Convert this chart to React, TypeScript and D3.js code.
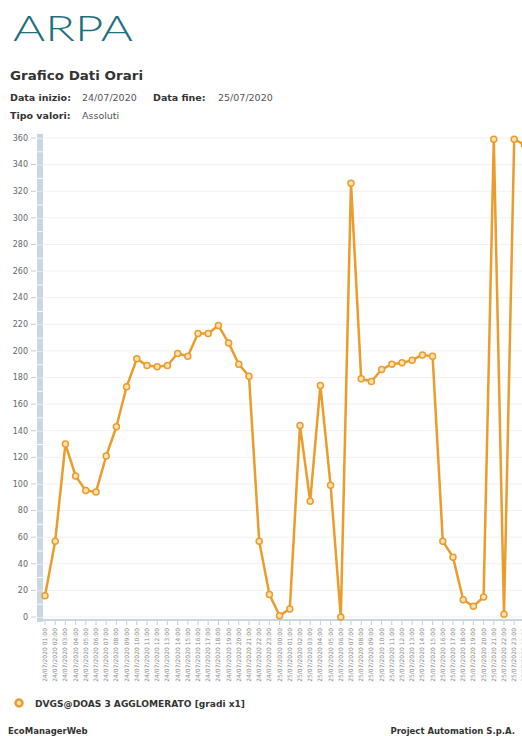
import React from "react";
import * as d3 from "d3";

const hours = [
  "24/07/2020 01:00","24/07/2020 02:00","24/07/2020 03:00","24/07/2020 04:00","24/07/2020 05:00","24/07/2020 06:00",
  "24/07/2020 07:00","24/07/2020 08:00","24/07/2020 09:00","24/07/2020 10:00","24/07/2020 11:00","24/07/2020 12:00",
  "24/07/2020 13:00","24/07/2020 14:00","24/07/2020 15:00","24/07/2020 16:00","24/07/2020 17:00","24/07/2020 18:00",
  "24/07/2020 19:00","24/07/2020 20:00","24/07/2020 21:00","24/07/2020 22:00","24/07/2020 23:00","25/07/2020 00:00",
  "25/07/2020 01:00","25/07/2020 02:00","25/07/2020 03:00","25/07/2020 04:00","25/07/2020 05:00","25/07/2020 06:00",
  "25/07/2020 07:00","25/07/2020 08:00","25/07/2020 09:00","25/07/2020 10:00","25/07/2020 11:00","25/07/2020 12:00",
  "25/07/2020 13:00","25/07/2020 14:00","25/07/2020 15:00","25/07/2020 16:00","25/07/2020 17:00","25/07/2020 18:00",
  "25/07/2020 19:00","25/07/2020 20:00","25/07/2020 21:00","25/07/2020 22:00","25/07/2020 23:00","26/07/2020 00:00",
];

const values = [
  16, 57, 130, 106, 95, 94, 121, 143, 173, 194, 189, 188,
  189, 198, 196, 213, 213, 219, 206, 190, 181, 57, 17, 1,
  6, 144, 87, 174, 99, 0, 326, 179, 177, 186, 190, 191,
  193, 197, 196, 57, 45, 13, 8, 15, 359, 2, 359, 355,
];

const yTicks = [0, 20, 40, 60, 80, 100, 120, 140, 160, 180, 200, 220, 240, 260, 280, 300, 320, 340, 360];
const seriesName = "DVGS@DOAS 3 AGGLOMERATO [gradi x1]";

const W = 522;
const H = 736;
const LINE = "#EA9C2C";
const FILL = "#FBE2B0";

export default function App() {
  const x = d3.scalePoint<string>().domain(hours).range([45, 45 + 47 * 10.2]);
  const y = d3.scaleLinear().domain([0, 360]).range([617, 138]);
  const line = d3
    .line<number>()
    .x((_, i) => x(hours[i]) as number)
    .y((d) => y(d));
  const minor = d3.range(0, 361, 10);

  return (
    <div style={{ position: "absolute", left: 0, top: 0, width: W, height: H, overflow: "hidden", background: "#fff" }}>
      <svg width={W} height={H} style={{ display: "block", fontFamily: "'DejaVu Sans', Verdana, sans-serif" }}>
        <rect width={W} height={H} fill="#fff" />
        {/* logo */}
        <text x={13} y={41} fontFamily="Lato, 'Open Sans', sans-serif" fontWeight={300} fontSize={36}
          fill="#1F6F7E" textLength={120} lengthAdjust="spacingAndGlyphs">ARPA</text>
        {/* headings */}
        <text x={10} y={80} fontSize={12.5} fontWeight="bold" fill="#333" textLength={133} lengthAdjust="spacingAndGlyphs">Grafico Dati Orari</text>
        <text x={10} y={101} fontSize={9.5} fontWeight="bold" fill="#333">Data inizio:</text>
        <text x={82} y={101} fontSize={9.5} fill="#555">24/07/2020</text>
        <text x={153} y={101} fontSize={9.5} fontWeight="bold" fill="#333">Data fine:</text>
        <text x={218} y={101} fontSize={9.5} fill="#555">25/07/2020</text>
        <text x={10} y={119} fontSize={9.5} fontWeight="bold" fill="#333">Tipo valori:</text>
        <text x={82} y={119} fontSize={9.5} fill="#555">Assoluti</text>

        {/* grid */}
        {yTicks.map((t) => (
          <line key={"g" + t} x1={43} x2={W} y1={y(t)} y2={y(t)} stroke="#f1f1f1" strokeWidth={1} />
        ))}
        {/* y axis band */}
        <rect x={37} y={134} width={6} height={488} fill="#C9D6E3" />
        {minor.map((t) => (
          <line key={"m" + t} x1={37} x2={43} y1={y(t) + 0.5} y2={y(t) + 0.5} stroke="#fff" strokeWidth={t % 20 === 0 ? 0.6 : 1} opacity={0.9} />
        ))}
        {yTicks.map((t) => (
          <g key={"yt" + t}>
            <line x1={31} x2={36} y1={y(t)} y2={y(t)} stroke="#ccc" />
            <text x={28} y={y(t)} dy="0.35em" textAnchor="end" fontSize={8} fill="#666">{t}</text>
          </g>
        ))}
        {/* x axis */}
        <line x1={37} x2={W} y1={620} y2={620} stroke="#C9D6E3" strokeWidth={2} />
        {hours.map((h) => (
          <g key={"x" + h} transform={`translate(${x(h)},0)`}>
            <line y1={621} y2={625} stroke="#ccc" />
            <text transform="translate(2,628) rotate(-90)" textAnchor="end" fontSize={6} fill="#888">{h}</text>
          </g>
        ))}

        {/* series */}
        <path d={line(values) || ""} fill="none" stroke={LINE} strokeWidth={2.5} strokeLinejoin="round" />
        {values.map((v, i) => (
          <circle key={"p" + i} cx={x(hours[i])} cy={y(v)} r={3} fill={FILL} stroke={LINE} strokeWidth={1.5} />
        ))}

        {/* legend */}
        <circle cx={19} cy={703} r={3.5} fill={FILL} stroke={LINE} strokeWidth={2.5} />
        <text x={35} y={707} fontSize={9.5} fontWeight="bold" fill="#333" textLength={210} lengthAdjust="spacingAndGlyphs">{seriesName}</text>

        {/* footer */}
        <text x={8} y={734} fontSize={8.5} fontWeight="bold" fill="#333">EcoManagerWeb</text>
        <text x={515} y={734} textAnchor="end" fontSize={8.5} fontWeight="bold" fill="#333">Project Automation S.p.A.</text>
      </svg>
    </div>
  );
}
